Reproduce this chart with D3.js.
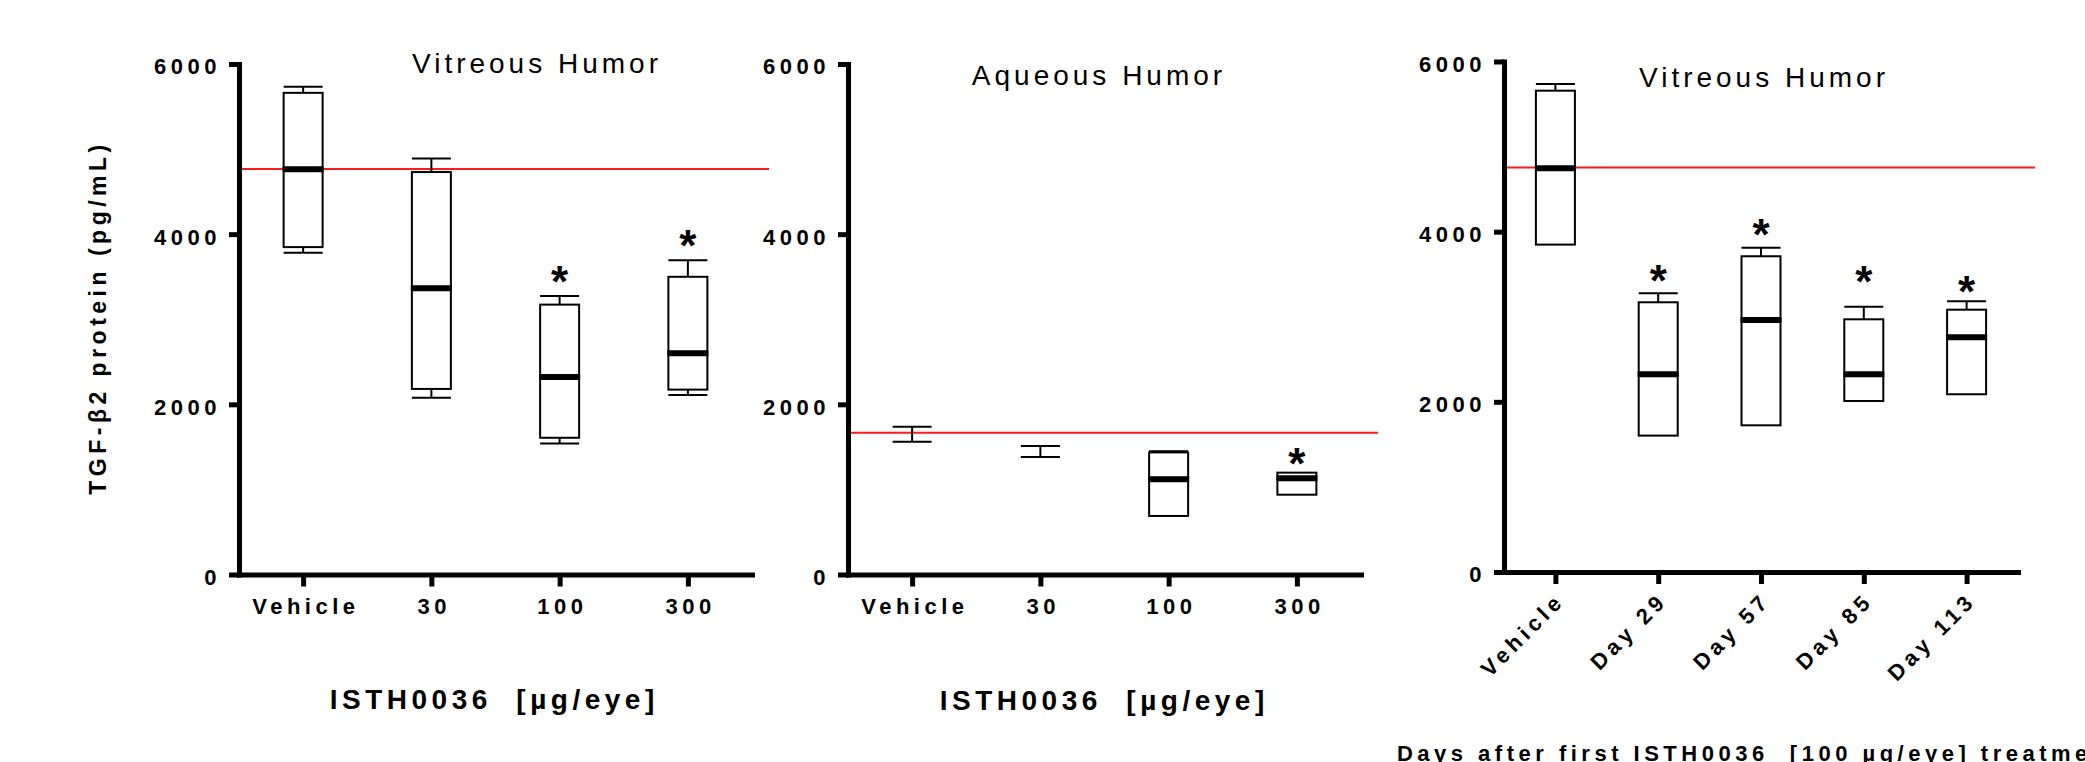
<!DOCTYPE html>
<html>
<head>
<meta charset="utf-8">
<title>TGF-β2 protein - ISTH0036</title>
<script src="https://d3js.org/d3.v7.min.js"></script>
<style>
  body { margin: 0; background: #fff; }
  text { font-family: "Liberation Sans", Arial, sans-serif; }
</style>
</head>
<body>
<script>

// --- data (pg/mL) ---
var yTicks = [0, 2000, 4000, 6000];

// panel 1 : vitreous humor, dose
var vitCats = ["Vehicle", "30", "100", "300"];
var vitMin  = [3781, 2077, 1540, 2110];
var vitQ1   = [3848, 2181, 1607, 2173];
var vitMed  = [4764, 3365, 2320, 2601];
var vitQ3   = [5661, 4730, 3172, 3499];
var vitMax  = [5732, 4889, 3273, 3693];
var vitStar = [null, null, 3554, 3974];

// panel 2 : aqueous humor, dose (first two groups : whiskers only)
var aqCats = ["Vehicle", "30", "100", "300"];
var aqMin  = [1561, 1382, 688, 938];
var aqQ1   = [null, null, 688, 938];
var aqMed  = [null, null, 1120, 1131];
var aqQ3   = [null, null, 1435, 1197];
var aqMax  = [1736, 1510, 1448, 1197];
var aqStar = [null, null, null, 1416];

// panel 3 : vitreous humor, days after first treatment
var dayCats = ["Vehicle", "Day 29", "Day 57", "Day 85", "Day 113"];
var dayMin  = [3848, 1603, 1724, 2010, 2089];
var dayQ1   = [3848, 1603, 1724, 2010, 2089];
var dayMed  = [4746, 2324, 2962, 2324, 2759];
var dayQ3   = [5657, 3170, 3711, 2970, 3083];
var dayMax  = [5737, 3276, 3812, 3118, 3182];
var dayStar = [null, 3541, 4079, 3530, 3412];

// vehicle reference lines
var refLines = [4765, 1667, 4755];

// --- layout ---
var svgWidth = 2085;
var svgHeight = 762;
var boxW = 39;

var panels = [
  {cats: vitCats, min: vitMin, q1: vitQ1, med: vitMed, q3: vitQ3, max: vitMax, star: vitStar,
   ref: refLines[0], x0: 239, x1: 752, y0: 574.5, y1: 64,
   title: "Vitreous Humor", tx: 535, ty: 73,
   xTitle: "ISTH0036  [µg/eye]", xtx: 492, xty: 709, xtSize: 28, rotate: false},
  {cats: aqCats, min: aqMin, q1: aqQ1, med: aqMed, q3: aqQ3, max: aqMax, star: aqStar,
   ref: refLines[1], x0: 848, x1: 1361, y0: 574.5, y1: 64,
   title: "Aqueous Humor", tx: 1097, ty: 85,
   xTitle: "ISTH0036  [µg/eye]", xtx: 1102, xty: 710, xtSize: 28, rotate: false},
  {cats: dayCats, min: dayMin, q1: dayQ1, med: dayMed, q3: dayQ3, max: dayMax, star: dayStar,
   ref: refLines[2], x0: 1504, x1: 2018, y0: 572, y1: 61.5,
   title: "Vitreous Humor", tx: 1762, ty: 87,
   xTitle: "Days after first ISTH0036  [100 µg/eye] treatment", xtx: 1757, xty: 761, xtSize: 22, rotate: true}
];

var svg = d3.select("body")
  .append("svg")
  .attr("width", svgWidth)
  .attr("height", svgHeight);

svg.append("rect")
  .attr("width", svgWidth)
  .attr("height", svgHeight)
  .attr("fill", "#fff");

// y axis title (only on the left)
svg.append("text")
  .attr("transform", "translate(106,320) rotate(-90)")
  .attr("text-anchor", "middle")
  .attr("dx", 2.5)
  .style("font-size", "23px")
  .style("font-weight", "bold")
  .style("letter-spacing", "4.5px")
  .text("TGF-β2 protein (pg/mL)");

function vline(g, cx, a, b) {
  g.append("line").attr("x1", cx).attr("x2", cx)
    .attr("y1", a).attr("y2", b)
    .attr("stroke", "#000").attr("stroke-width", 2);
}
function cap(g, cx, yy) {
  g.append("line")
    .attr("x1", cx - boxW / 2).attr("x2", cx + boxW / 2)
    .attr("y1", yy).attr("y2", yy)
    .attr("stroke", "#000").attr("stroke-width", 2);
}

panels.forEach(function(p) {
  var y = d3.scaleLinear().domain([0, 6000]).range([p.y0, p.y1]);
  var x = d3.scalePoint().domain(p.cats).range([p.x0, p.x1]).padding(0.5);
  var g = svg.append("g");

  // red reference line, under the boxes
  g.append("line")
    .attr("x1", p.x0 + 2)
    .attr("x2", p.x1 + 17)
    .attr("y1", y(p.ref))
    .attr("y2", y(p.ref))
    .attr("stroke", "#ff1a1a")
    .attr("stroke-width", 2);

  // boxes
  p.cats.forEach(function(c, i) {
    var cx = x(c);

    if (p.q1[i] == null) {
      // whiskers only
      vline(g, cx, y(p.max[i]), y(p.min[i]));
      cap(g, cx, y(p.max[i]));
      cap(g, cx, y(p.min[i]));
    } else {
      if (p.max[i] > p.q3[i]) {
        vline(g, cx, y(p.max[i]), y(p.q3[i]));
        cap(g, cx, y(p.max[i]));
      }
      if (p.min[i] < p.q1[i]) {
        vline(g, cx, y(p.q1[i]), y(p.min[i]));
        cap(g, cx, y(p.min[i]));
      }
      g.append("rect")
        .attr("x", cx - boxW / 2)
        .attr("width", boxW)
        .attr("y", y(p.q3[i]))
        .attr("height", y(p.q1[i]) - y(p.q3[i]))
        .attr("fill", "none")
        .attr("stroke", "#000")
        .attr("stroke-width", 2);
      g.append("line")
        .attr("x1", cx - boxW / 2 - 1).attr("x2", cx + boxW / 2 + 1)
        .attr("y1", y(p.med[i])).attr("y2", y(p.med[i]))
        .attr("stroke", "#000").attr("stroke-width", 6);
    }

    if (p.star[i] != null) {
      g.append("text")
        .attr("x", cx)
        .attr("y", y(p.star[i]) + 25)
        .attr("text-anchor", "middle")
        .style("font-size", "44px")
        .style("font-weight", "bold")
        .text("*");
    }
  });

  // axes
  var yAxis = g.append("g")
    .attr("transform", "translate(" + p.x0 + ",0)")
    .call(d3.axisLeft(y).tickValues(yTicks).tickSize(10).tickSizeOuter(0).tickPadding(8).tickFormat(d3.format("d")));

  var xAxis = g.append("g")
    .attr("transform", "translate(0," + p.y0 + ")")
    .call(d3.axisBottom(x).tickSize(12).tickSizeOuter(0).tickPadding(12));

  [yAxis, xAxis].forEach(function(a) {
    a.select(".domain").attr("stroke-width", 5).attr("stroke-linecap", "square");
    a.selectAll(".tick line").attr("stroke-width", 5);
    a.selectAll("text")
      .attr("fill", "#000")
      .style("font-size", "22px")
      .style("font-weight", "bold")
      .style("letter-spacing", "4.5px")
      .style("font-family", "'Liberation Sans', Arial, sans-serif");
  });
  yAxis.selectAll("text").attr("dy", "0.45em");

  if (p.rotate) {
    xAxis.selectAll(".tick text")
      .attr("y", 0)
      .attr("dy", 0)
      .attr("text-anchor", "end")
      .attr("transform", "translate(10,30) rotate(-45)");
  } else {
    xAxis.selectAll(".tick text").attr("dx", 2.25);
  }

  // panel title
  g.append("text")
    .attr("x", p.tx)
    .attr("y", p.ty)
    .attr("text-anchor", "middle")
    .attr("dx", 2)
    .style("font-size", "28px")
    .style("letter-spacing", "4px")
    .text(p.title);

  // x axis title
  g.append("text")
    .attr("x", p.xtx)
    .attr("y", p.xty)
    .attr("text-anchor", "middle")
    .attr("dx", 2.25)
    .style("font-size", p.xtSize + "px")
    .style("font-weight", "bold")
    .style("letter-spacing", "4.5px")
    .style("white-space", "pre")
    .text(p.xTitle);
});

</script>
</body>
</html>
